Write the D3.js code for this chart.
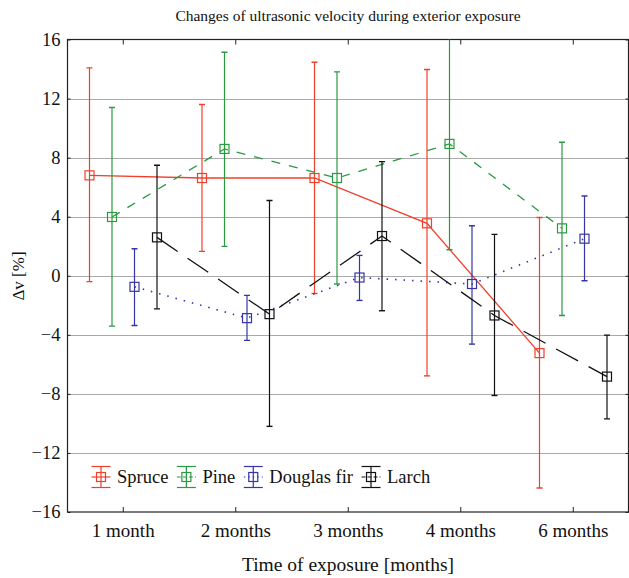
<!DOCTYPE html>
<html><head><meta charset="utf-8">
<script src="https://cdn.jsdelivr.net/npm/d3@7"></script>
<style>
body{margin:0;background:#fff;}
svg{display:block;}
text{font-family:"Liberation Serif","DejaVu Serif",serif;fill:#111;}
</style></head>
<body><svg id="c" width="629" height="578"></svg>
<script>
const categories = ["1 month","2 months","3 months","4 months","6 months"];
const seriesNames = ["Spruce","Pine","Douglas fir","Larch"];
const spruceMean = [6.8, 6.62, 6.62, 3.55, -5.24];
const spruceUpper = [14.08, 11.6, 14.46, 13.97, 3.95];
const spruceLower = [-0.4, 1.65, -1.2, -6.78, -14.37];
const pineMean = [3.98, 8.59, 6.62, 8.93, 3.21];
const pineUpper = [11.39, 15.14, 13.81, 19.5, 9.04];
const pineLower = [-3.41, 1.99, -0.56, 1.76, -2.69];
const douglasMean = [-0.75, -2.87, -0.12, -0.56, 2.51];
const douglasUpper = [1.83, -1.33, 1.38, 3.39, 5.4];
const douglasLower = [-3.37, -4.38, -1.67, -4.63, -0.34];
const larchMean = [2.6, -2.6, 2.69, -2.69, -6.83];
const larchUpper = [7.48, 5.1, 7.73, 2.8, -4.02];
const larchLower = [-2.24, -10.2, -2.37, -8.11, -9.69];
const yTicks = [16, 12, 8, 4, 0, -4, -8, -12, -16];

const series = [
  {name: seriesNames[0], mean: spruceMean, up: spruceUpper, lo: spruceLower, color: "#f0402a", dash: null, off: -0.3},
  {name: seriesNames[1], mean: pineMean, up: pineUpper, lo: pineLower, color: "#2a9a40", dash: "9,9", off: -0.1},
  {name: seriesNames[2], mean: douglasMean, up: douglasUpper, lo: douglasLower, color: "#3535a8", dash: "1.5,7", off: 0.1},
  {name: seriesNames[3], mean: larchMean, up: larchUpper, lo: larchLower, color: "#111111", dash: "25,12", off: 0.3}
];

const svg = d3.select("#c");
const L = 67.5, R = 628.5, T = 39.5, B = 512;
const x = d3.scaleBand().domain(categories).range([67, 629.5]).padding(0);
const y = d3.scaleLinear().domain([-16, 16]).range([B, T]);
const bw = x.bandwidth();
const cx = (i, off) => x(categories[i]) + bw / 2 + off * bw;

svg.append("defs").append("clipPath").attr("id", "clip")
  .append("rect").attr("x", L).attr("y", T).attr("width", R - L).attr("height", B - T);

// gridlines
svg.append("g").selectAll("line").data(yTicks.filter(d => d > -16 && d < 16)).join("line")
  .attr("x1", L).attr("x2", R).attr("y1", d => Math.round(y(d)) + 0.5).attr("y2", d => Math.round(y(d)) + 0.5)
  .attr("stroke", "#555").attr("stroke-width", 1).attr("stroke-dasharray", "1,1");

// y axis
const yAxis = d3.axisLeft(y).tickValues(yTicks).tickSize(-3).tickPadding(7)
  .tickFormat(d => d < 0 ? "\u2212" + Math.abs(d) : String(d));
const gy = svg.append("g").attr("transform", `translate(${L},0)`).call(yAxis);
gy.select(".domain").remove();
gy.selectAll("line").attr("stroke", "#222");
gy.selectAll("text").style("font-size", "18.5px").style("font-family", "'Liberation Serif', serif").attr("fill", "#111");
const yAxisR = d3.axisRight(y).tickValues(yTicks).tickSize(-3).tickFormat("");
const gyr = svg.append("g").attr("transform", `translate(${R},0)`).call(yAxisR);
gyr.select(".domain").remove();
gyr.selectAll("line").attr("stroke", "#222");

// x axis bottom and top
const xAxis = d3.axisBottom(x).tickSize(-5).tickPadding(12);
const gx = svg.append("g").attr("transform", `translate(0,${B})`).call(xAxis);
gx.select(".domain").remove();
gx.selectAll("line").attr("stroke", "#222");
gx.selectAll("text").style("font-size", "19px").style("font-family", "'Liberation Serif', serif").attr("fill", "#111");
const xAxisT = d3.axisTop(x).tickSize(-5).tickFormat("");
const gxt = svg.append("g").attr("transform", `translate(0,${T})`).call(xAxisT);
gxt.select(".domain").remove();
gxt.selectAll("line").attr("stroke", "#222");

// frame
svg.append("rect").attr("x", L).attr("y", T).attr("width", R - L).attr("height", B - T)
  .attr("fill", "none").attr("stroke", "#222").attr("stroke-width", 1.2);

// series
const plot = svg.append("g").attr("clip-path", "url(#clip)");
series.forEach(s => {
  const g = plot.append("g");
  const line = d3.line().x((d, i) => cx(i, s.off)).y(d => y(d));
  g.append("path").datum(s.mean).attr("d", line).attr("fill", "none")
    .attr("stroke", s.color).attr("stroke-width", s.dash === "1.5,7" ? 1.6 : 1.3)
    .attr("stroke-dasharray", s.dash);
  const idx = d3.range(s.mean.length);
  g.selectAll(".eb").data(idx).join("line")
    .attr("x1", i => cx(i, s.off)).attr("x2", i => cx(i, s.off))
    .attr("y1", i => y(s.up[i])).attr("y2", i => y(s.lo[i]))
    .attr("stroke", s.color).attr("stroke-width", 1.2);
  ["up", "lo"].forEach(k => {
    g.selectAll(".cap" + k).data(idx).join("line")
      .attr("x1", i => cx(i, s.off) - 3).attr("x2", i => cx(i, s.off) + 3)
      .attr("y1", i => y(s[k][i])).attr("y2", i => y(s[k][i]))
      .attr("stroke", s.color).attr("stroke-width", 1.4);
  });
  g.selectAll("rect").data(idx).join("rect")
    .attr("x", i => cx(i, s.off) - 4.5).attr("y", i => y(s.mean[i]) - 4.5)
    .attr("width", 9).attr("height", 9).attr("fill", "none")
    .attr("stroke", s.color).attr("stroke-width", 1.2);
});

// legend
let lx = 101;
const ly = 477;
series.forEach(s => {
  const g = svg.append("g");
  g.append("line").attr("x1", lx).attr("x2", lx).attr("y1", ly - 10.5).attr("y2", ly + 10.5)
    .attr("stroke", s.color).attr("stroke-width", 1.2);
  [ly - 10.5, ly + 10.5].forEach(yy => g.append("line").attr("x1", lx - 9.5).attr("x2", lx + 9.5)
    .attr("y1", yy).attr("y2", yy).attr("stroke", s.color).attr("stroke-width", 1.2));
  g.append("line").attr("x1", lx - 9.5).attr("x2", lx + 9.5).attr("y1", ly).attr("y2", ly)
    .attr("stroke", s.color).attr("stroke-width", 1.2)
    .attr("stroke-dasharray", s.dash === "1.5,7" ? "1.5,3" : (s.dash ? "4,2" : null));
  g.append("rect").attr("x", lx - 4.5).attr("y", ly - 4.5).attr("width", 9).attr("height", 9)
    .attr("fill", "none").attr("stroke", s.color).attr("stroke-width", 1.2);
  const t = g.append("text").attr("x", lx + 16).attr("y", ly + 6).style("font-size", "18.5px").text(s.name);
  lx = lx + 16 + t.node().getComputedTextLength() + 18;
});

// titles
svg.append("text").attr("x", (L + R) / 2).attr("y", 21).attr("text-anchor", "middle")
  .style("font-size", "15.5px").text("Changes of ultrasonic velocity during exterior exposure");
svg.append("text").attr("x", (L + R) / 2).attr("y", 571).attr("text-anchor", "middle")
  .style("font-size", "19.5px").text("Time of exposure [months]");
svg.append("text").attr("transform", "translate(24,276) rotate(-90)").attr("text-anchor", "middle")
  .style("font-size", "17px").text("\u0394v [%]");
</script></body></html>
